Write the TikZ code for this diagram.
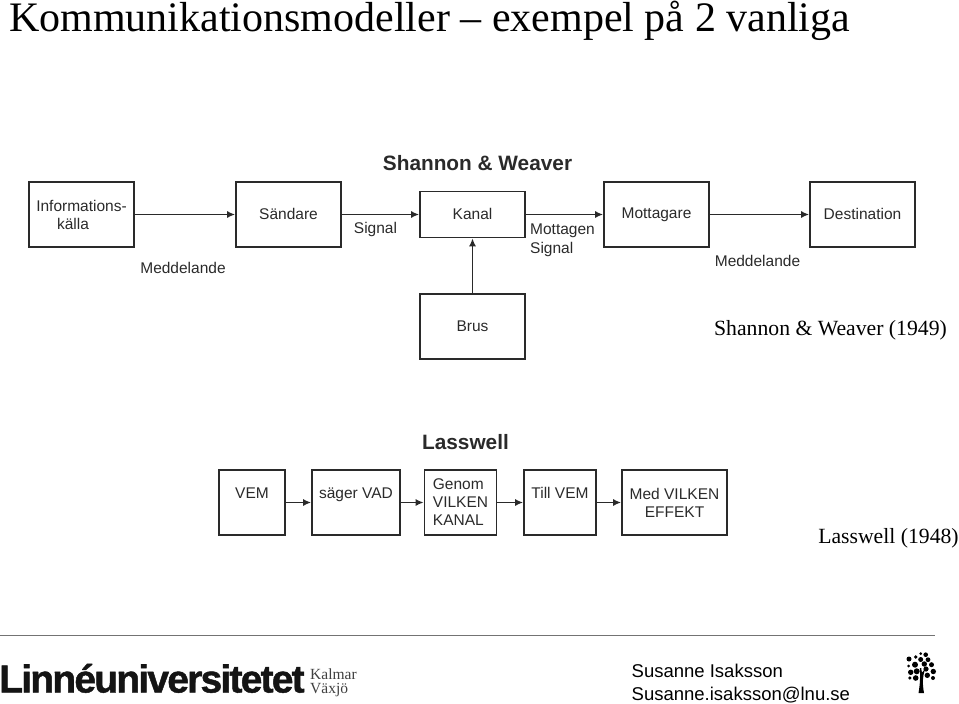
\documentclass[tikz,border=0pt]{standalone}
\usepackage{fontspec}
\setmainfont{Liberation Sans}
\newfontfamily\serifx{Liberation Serif}
\usetikzlibrary{arrows.meta}
\definecolor{ink}{HTML}{2A2A2A}
\tikzset{
  x=1pt,y=-1pt,
  bx/.style={draw=ink,line width=1.6pt,inner sep=0pt,align=center,font=\fontsize{15.5}{18}\selectfont,text=ink},
  conn/.style={draw=ink,line width=1.8pt,-{Latex[length=8pt,width=7pt]}},
  lbl/.style={inner sep=0pt,align=left,font=\fontsize{15.5}{18.5}\selectfont,text=ink},
  head/.style={inner sep=0pt,font=\bfseries\fontsize{20.8}{24}\selectfont,text=ink},
  ser/.style={inner sep=0pt,font=\serifx\fontsize{21.7}{24}\selectfont,text=black},
  foot/.style={inner sep=0pt,align=left,font=\fontsize{18.5}{22.5}\selectfont,text=black},
  small/.style={inner sep=0pt,anchor=base west,font=\serifx\fontsize{15.5}{16}\selectfont,text=black!75},
}
\newcommand{\boxat}[6]{\node[bx,minimum width=#4 pt,minimum height=#5 pt] (#1) at (#2,#3) {#6};}
\begin{document}
\begin{tikzpicture}
\useasboundingbox (0,0) rectangle (959,704);
\node[inner sep=0pt,anchor=base west,font=\serifx\fontsize{42}{46}\selectfont] (title) at (9,31) {Kommunikationsmodeller – exempel på 2 vanliga};
\node[head] (hs) at (477.5,163) {Shannon \& Weaver};
\boxat{info}{81.5}{214.5}{105}{65}{Informations-\\\hspace*{-17pt}källa}
\boxat{send}{288.5}{214.5}{105}{65}{\raisebox{1.5pt}{Sändare}}
\boxat{kanal}{472.5}{214.5}{105}{46}{\raisebox{1.5pt}{Kanal}}
\boxat{mott}{656.5}{214.5}{105}{65}{\raisebox{-3pt}{Mottagare}}
\boxat{dest}{862.5}{214.5}{105}{65}{\raisebox{1.5pt}{Destination}}
\boxat{brus}{472.5}{326.5}{105}{65}{Brus}
\draw[conn] (info) -- (send);
\draw[conn] (send) -- (kanal);
\draw[conn] (kanal) -- (mott);
\draw[conn] (mott) -- (dest);
\draw[conn] (brus) -- (kanal);
\node[lbl,anchor=center] (m1) at (183,268) {Meddelande};
\node[lbl,anchor=center] (sg) at (375.5,229.5) {Signal};
\node[lbl,anchor=north west] (ms) at (530,224) {Mottagen\\Signal};
\node[lbl,anchor=center] (m2) at (757.5,260.5) {Meddelande};
\node[ser,anchor=center] (c1) at (830.5,330) {Shannon \& Weaver (1949)};
\node[head] (hl) at (465.5,442) {Lasswell};
\boxat{vem}{252}{502.5}{66}{65}{\raisebox{18pt}{VEM}}
\boxat{vad}{356}{502.5}{88}{65}{\raisebox{18pt}{säger VAD}}
\node[bx,minimum width=72pt,minimum height=65pt,align=left] (gen) at (460.5,502.5) {Genom\\VILKEN\\KANAL};
\boxat{till}{560}{502.5}{72}{65}{\raisebox{19pt}{Till VEM}}
\boxat{eff}{674.5}{502.5}{105}{65}{Med VILKEN\\EFFEKT}
\draw[conn] (vem) -- (vad);
\draw[conn] (vad) -- (gen);
\draw[conn] (gen) -- (till);
\draw[conn] (till) -- (eff);
\node[ser,anchor=center] (c2) at (888.5,538.5) {Lasswell (1948)};
\draw[draw=black!55,line width=1.6pt] (0,635.5) -- (935,635.5);
% logo
\node[inner sep=0pt,anchor=base west,font=\bfseries\fontsize{39}{40}\selectfont,text=black!92] (logo) at (-1,692.5) {\addfontfeature{FakeBold=1.2,LetterSpace=-4.6}Linnéuniversitetet};
\node[small] (k) at (310,679.5) {Kalmar};
\node[small] (v) at (310,693.5) {Växjö};
\node[foot,anchor=north west] (name) at (631.5,664) {Susanne Isaksson\\Susanne.isaksson@lnu.se};
% tree
\fill[black] (918.5,693) .. controls (920,685) and (920.5,675) .. (919.8,668) -- (921.3,668) .. controls (921.5,672) and (922,674) .. (924,670) -- (924.5,671) .. controls (923,676) and (922,682) .. (924,693) -- cycle;
\foreach \x/\y/\r in {920.7/653.7/1.5,925.7/654.7/2.3,915.7/657/1.8,909/659/2.5,920.7/659.5/2.5,928/659.7/2.4,915/664.7/3,908.5/666/1.5,924.3/664/2.7,931.5/664.7/2.5,910.7/672.3/2.7,916.7/671.3/3,926/669/2.6,933.3/671.5/2.7,927.3/675.3/2.7,915.7/678/2.8,909.8/678/1.8,933/678/2}
  \fill[black] (\x,\y) circle (\r);
\end{tikzpicture}
\end{document}
